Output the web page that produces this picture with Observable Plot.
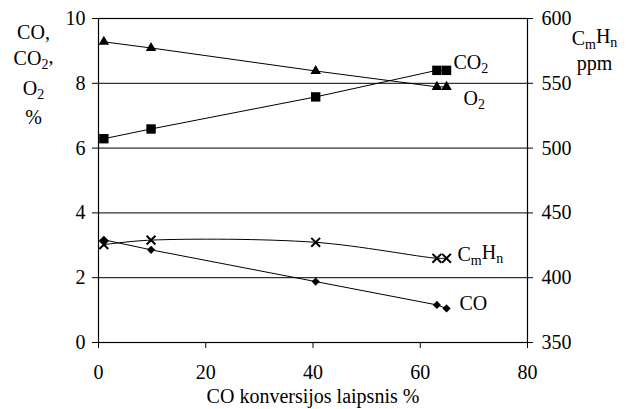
<!DOCTYPE html>
<html><head><meta charset="utf-8">
<script src="https://cdn.jsdelivr.net/npm/d3@7"></script>
<script src="https://cdn.jsdelivr.net/npm/@observablehq/plot@0.6"></script>
<style>
body{margin:0;background:#fff}
#chart svg{display:block}
</style>
</head><body><div id="chart"></div>
<script>
// Data
const conversion = [1.0, 9.8, 40.5, 63.1, 64.9];     // CO konversijos laipsnis %
const o2 = [9.28, 9.09, 8.38, 7.89, 7.89];           // O2 %
const co2 = [6.29, 6.59, 7.58, 8.40, 8.40];          // CO2 %
const co = [3.17, 2.86, 1.88, 1.16, 1.05];           // CO %
const cmhnPpm = [425.5, 429, 427.3, 415, 415];       // CmHn ppm (right axis)

const xTicks = [0, 20, 40, 60, 80];
const leftTicks = [0, 2, 4, 6, 8, 10];
const ppmTicks = [350, 400, 450, 500, 550, 600];
const leftTitle = ["CO,", "CO_2,", "O_2", "%"];
const rightTitle = ["C_mH_n", "ppm"];
const xTitle = "CO konversijos laipsnis %";

// right axis (ppm) mapped onto the left axis (%)
const ppm = d3.scaleLinear().domain([350, 600]).range([0, 10]);

const rows = conversion.map((c, i) => ({c, o2: o2[i], co2: co2[i], co: co[i], cmhn: ppm(cmhnPpm[i])}));
const last = rows.slice(-1);

const FONT = "Liberation Serif";
const FS = 20;
const leftDy = [14, 40, 70, 99];
const rightDy = [20, 45];
const T = {fontSize: FS, fontFamily: FONT, lineAnchor: "middle"};
const chart = Plot.plot({
  width: 627, height: 409,
  marginLeft: 98, marginRight: 100, marginTop: 18, marginBottom: 67,
  style: {fontSize: FS + "px", fontFamily: FONT, color: "black", background: "white"},
  x: {domain: [0, 80]},
  y: {domain: [0, 10]},
  marks: [
    Plot.gridY(leftTicks, {stroke: "black", strokeOpacity: 1, strokeWidth: 1}),
    Plot.frame({stroke: "black", strokeWidth: 1.2}),
    Plot.axisY(leftTicks, {anchor: "left", tickSize: 6, tickPadding: 7, label: null, fontSize: FS, fontFamily: FONT}),
    Plot.axisY(ppmTicks.map(ppm), {anchor: "right", tickSize: 5, tickPadding: 9, label: null, fontSize: FS, fontFamily: FONT,
      tickFormat: d => String(Math.round(ppm.invert(d)))}),
    Plot.axisX(xTicks, {anchor: "bottom", tickSize: 6, tickPadding: 16, label: null, fontSize: FS, fontFamily: FONT}),

    Plot.line(rows, {x: "c", y: "o2", stroke: "black", strokeWidth: 1}),
    Plot.line(rows, {x: "c", y: "co2", stroke: "black", strokeWidth: 1}),
    Plot.line(rows, {x: "c", y: "co", stroke: "black", strokeWidth: 1}),
    Plot.line(rows, {x: "c", y: "cmhn", stroke: "black", strokeWidth: 1, curve: "catmull-rom"}),

    Plot.dot(rows, {x: "c", y: "o2", symbol: "triangle", fill: "black", r: 3.9}),
    Plot.dot(rows, {x: "c", y: "co2", symbol: "square", fill: "black", r: 5.3}),
    Plot.dot(rows, {x: "c", y: "co", symbol: "diamond2", fill: "black", r: 3.7}),
    Plot.dot(rows, {x: "c", y: "cmhn", symbol: "times", stroke: "black", strokeWidth: 2, r: 4.1}),

    Plot.text(last, {...T, x: "c", y: "co2", text: () => "CO_2", textAnchor: "start", dx: 7, dy: -8}),
    Plot.text(last, {...T, x: "c", y: "o2", text: () => "O_2", textAnchor: "start", dx: 17, dy: 12}),
    Plot.text(last, {...T, x: "c", y: "cmhn", text: () => "C_mH_n", textAnchor: "start", dx: 11, dy: -4}),
    Plot.text(last, {...T, x: "c", y: "co", text: () => "CO", textAnchor: "start", dx: 13, dy: -5}),

    ...leftTitle.map((s, i) => Plot.text([s], {...T, frameAnchor: "top-left", text: d => d, dx: -65, dy: leftDy[i], textAnchor: "middle"})),
    ...rightTitle.map((s, i) => Plot.text([s], {...T, frameAnchor: "top-right", text: d => d, dx: 67, dy: rightDy[i], textAnchor: "middle"})),
    Plot.text([xTitle], {...T, frameAnchor: "bottom", text: d => d, dy: 54, textAnchor: "middle"})
  ]
});

// render "_x" as a subscript character
chart.querySelectorAll("text").forEach(t => {
  const s = t.textContent;
  if (!s.includes("_")) return;
  t.textContent = "";
  const parts = s.split(/(_.)/).filter(p => p.length);
  let sub = false;
  for (const p of parts) {
    const ts = document.createElementNS("http://www.w3.org/2000/svg", "tspan");
    if (p[0] === "_") {
      ts.textContent = p.slice(1);
      ts.setAttribute("font-size", Math.round(FS * 0.68));
      ts.setAttribute("dy", sub ? "0" : "0.3em");
      sub = true;
    } else {
      ts.textContent = p;
      if (sub) ts.setAttribute("dy", "-0.3em");
      sub = false;
    }
    t.appendChild(ts);
  }
});
document.getElementById("chart").appendChild(chart);
</script>
</body></html>
